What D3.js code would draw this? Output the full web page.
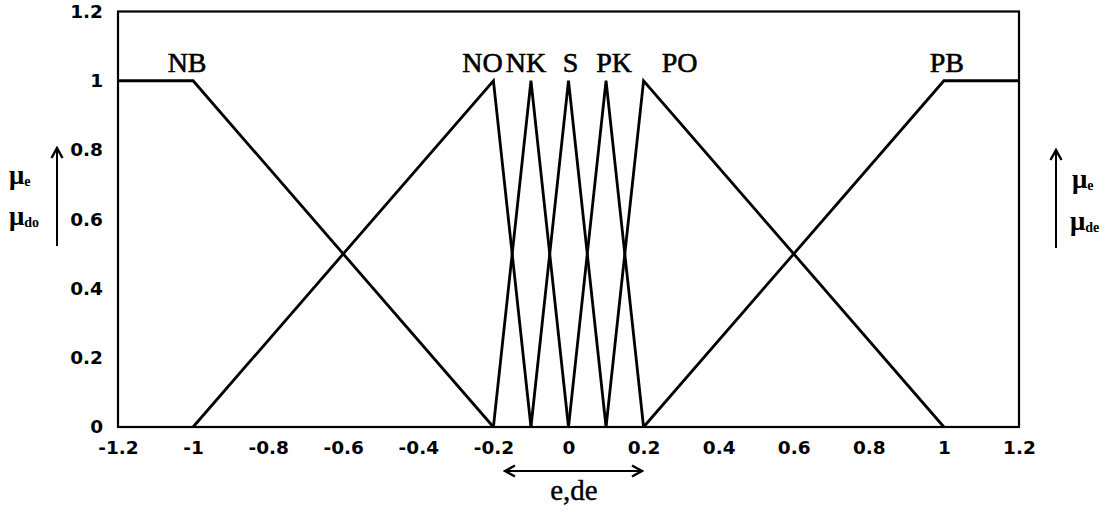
<!DOCTYPE html>
<html>
<head>
<meta charset="utf-8">
<script src="https://cdn.jsdelivr.net/npm/d3@7"></script>
<style>
  html, body { margin: 0; padding: 0; background: #fff; }
  svg { display: block; }
</style>
</head>
<body>
<svg id="chart" width="1112" height="512"></svg>
<script>
// Fuzzy sets for error e and its derivative de
const setNames = ["NB", "NO", "NK", "S", "PK", "PO", "PB"];
const setBreaksX = [
  [-1.2, -1.0, -0.2],
  [-1.0, -0.2, -0.1],
  [-0.2, -0.1, 0.0],
  [-0.1, 0.0, 0.1],
  [0.0, 0.1, 0.2],
  [0.1, 0.2, 1.0],
  [0.2, 1.0, 1.2]
];
const setBreaksMu = [
  [1, 1, 0],
  [0, 1, 0],
  [0, 1, 0],
  [0, 1, 0],
  [0, 1, 0],
  [0, 1, 0],
  [0, 1, 1]
];
// index of the breakpoint each set name sits above
const setLabelAt = [1, 1, 1, 1, 1, 1, 1];

const xTicks = [-1.2, -1, -0.8, -0.6, -0.4, -0.2, 0, 0.2, 0.4, 0.6, 0.8, 1, 1.2];
const yTicks = [0, 0.2, 0.4, 0.6, 0.8, 1, 1.2];

const svg = d3.select("#chart");
const plotL = 118, plotR = 1019, plotT = 11.5, plotB = 427;

const x = d3.scaleLinear().domain([-1.2, 1.2]).range([plotL, plotR]);
const y = d3.scaleLinear().domain([0, 1.2]).range([plotB, plotT]);

const fmt = v => String(v);

// axes (labels only, frame drawn separately)
const tickFont = "'DejaVu Sans', 'Liberation Sans', Arial, sans-serif";
const gx = svg.append("g")
  .attr("transform", `translate(0,${plotB})`)
  .call(d3.axisBottom(x).tickValues(xTicks).tickFormat(fmt).tickSize(0).tickPadding(14));
const gy = svg.append("g")
  .attr("transform", `translate(${plotL},0)`)
  .call(d3.axisLeft(y).tickValues(yTicks).tickFormat(fmt).tickSize(0).tickPadding(15));
[gx, gy].forEach(g => {
  g.select(".domain").remove();
  g.selectAll("text")
    .attr("font-family", tickFont)
    .attr("font-weight", "bold")
    .attr("font-size", 18.5)
    .attr("fill", "#000");
});

// plot frame
svg.append("rect")
  .attr("x", plotL).attr("y", plotT)
  .attr("width", plotR - plotL).attr("height", plotB - plotT)
  .attr("fill", "none").attr("stroke", "#000").attr("stroke-width", 2.2);

// membership functions
const line = d3.line().x(d => x(d[0])).y(d => y(d[1]));
setNames.forEach((name, i) => {
  const pts = setBreaksX[i].map((v, k) => [v, setBreaksMu[i][k]]);
  svg.append("path")
    .attr("d", line(pts))
    .attr("fill", "none")
    .attr("stroke", "#000")
    .attr("stroke-width", 2.8)
    .attr("stroke-linejoin", "miter");
});

// set names above the peaks
const nameShift = [-6, -11, -5, 2, 8, 36, 3];
const serif = "'Liberation Serif', 'Times New Roman', serif";
setNames.forEach((name, i) => {
  const k = setLabelAt[i];
  svg.append("text")
    .attr("x", x(setBreaksX[i][k]) + nameShift[i])
    .attr("y", y(setBreaksMu[i][k]) - 9)
    .attr("text-anchor", "middle")
    .attr("font-family", serif)
    .attr("font-size", 28)
    .attr("fill", "#000")
    .attr("stroke", "#000")
    .attr("stroke-width", 0.6)
    .text(name);
});

// arrow marker
const defs = svg.append("defs");
defs.append("marker")
  .attr("id", "head")
  .attr("viewBox", "0 0 14 14")
  .attr("refX", 12).attr("refY", 7)
  .attr("markerWidth", 14).attr("markerHeight", 14)
  .attr("markerUnits", "userSpaceOnUse")
  .attr("orient", "auto-start-reverse")
  .append("path")
  .attr("d", "M2,1.5 L12,7 L2,12.5")
  .attr("fill", "none").attr("stroke", "#000").attr("stroke-width", 2.4);

function muLabel(xp, yp, sub) {
  const t = svg.append("text")
    .attr("x", xp).attr("y", yp)
    .attr("font-family", serif)
    .attr("font-size", 27)
    .attr("font-weight", "bold")
    .attr("fill", "#000");
  t.append("tspan").text("μ");
  t.append("tspan").attr("dy", 2).attr("font-size", 14).text(sub);
}

// left membership axis annotation
svg.append("line")
  .attr("x1", 57).attr("y1", 246).attr("x2", 57).attr("y2", 148)
  .attr("stroke", "#000").attr("stroke-width", 2)
  .attr("marker-end", "url(#head)");
muLabel(9, 184, "e");
muLabel(9, 225, "do");

// right membership axis annotation
svg.append("line")
  .attr("x1", 1056).attr("y1", 248).attr("x2", 1056).attr("y2", 150)
  .attr("stroke", "#000").attr("stroke-width", 2)
  .attr("marker-end", "url(#head)");
muLabel(1072, 188, "e");
muLabel(1070, 230, "de");

// universe of discourse annotation
svg.append("line")
  .attr("x1", 505).attr("y1", 471).attr("x2", 642).attr("y2", 471)
  .attr("stroke", "#000").attr("stroke-width", 2)
  .attr("marker-start", "url(#head)")
  .attr("marker-end", "url(#head)");
svg.append("text")
  .attr("x", 574).attr("y", 500)
  .attr("text-anchor", "middle")
  .attr("font-family", serif)
  .attr("font-size", 29)
  .attr("fill", "#000")
  .attr("stroke", "#000")
  .attr("stroke-width", 0.4)
  .text("e,de");
</script>
</body>
</html>
